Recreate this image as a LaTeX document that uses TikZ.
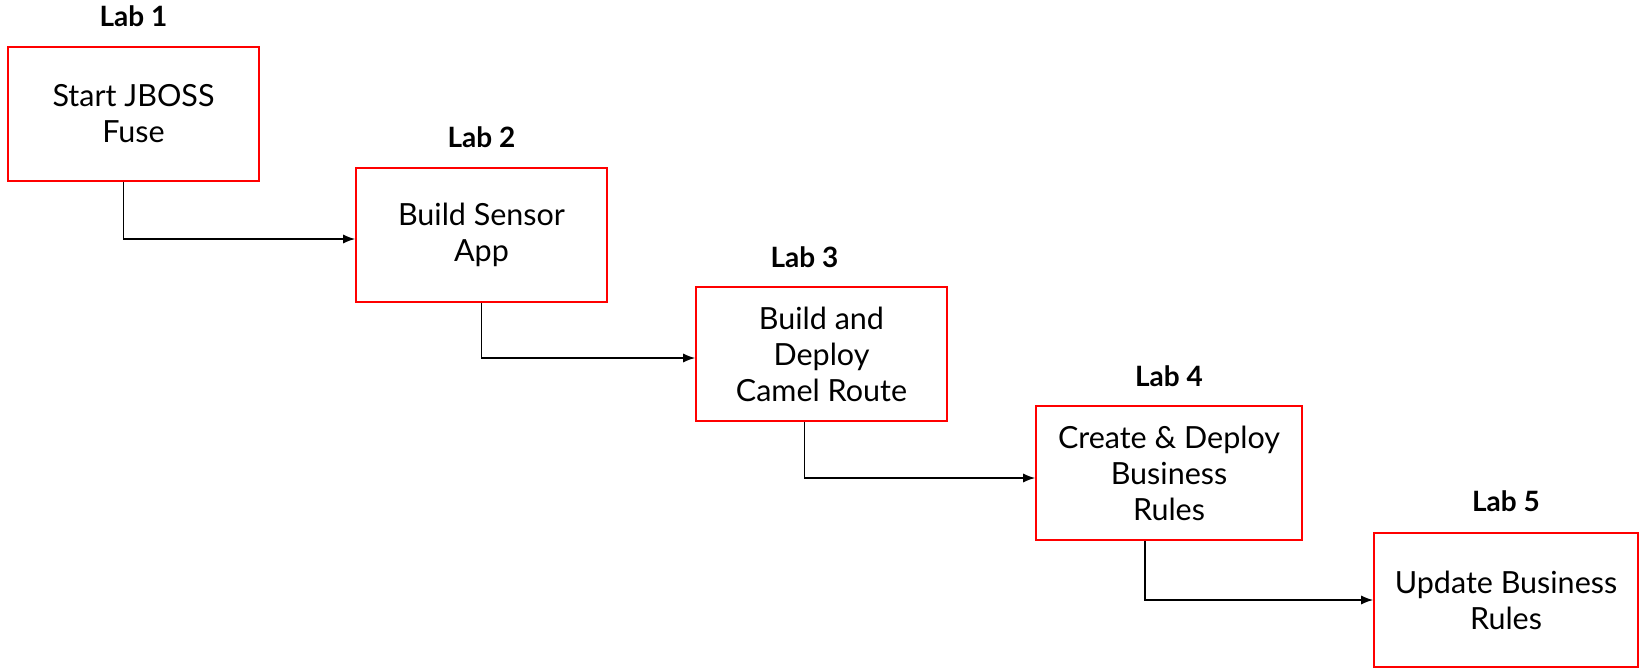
\documentclass[tikz,border=0pt]{standalone}
\usepackage{fontspec}
\setmainfont{Lato}
\usetikzlibrary{arrows.meta,positioning}

\begin{document}
\begin{tikzpicture}[x=1pt,y=-1pt,
    labbox/.style={draw=red,line width=1.6pt,minimum height=134pt,
        align=center,inner sep=0pt,font=\fontsize{30.5}{36}\selectfont},
    labtitle/.style={anchor=base,font=\bfseries\fontsize{28}{32}\selectfont},
    flow/.style={-{Latex[length=12pt,width=9pt]},line width=1.4pt}]
    \useasboundingbox (0,0) rectangle (1641,669);
    % the five lab boxes
    \node[labbox,minimum width=251pt] (b1) at (133.5,114) {Start JBOSS\\Fuse};
    \node[labbox,minimum width=251pt] (b2) at (481.5,235) {Build Sensor\\App};
    \node[labbox,minimum width=251pt] (b3) at (821.5,354) {Build and\\Deploy\\Camel Route};
    \node[labbox,minimum width=266pt] (b4) at (1169,473) {Create \& Deploy\\Business\\Rules};
    \node[labbox,minimum width=264pt] (b5) at (1506,600) {Update Business\\Rules};
    % titles above the boxes
    \node[labtitle] (t1) at ([yshift=20pt]b1.north) {Lab 1};
    \node[labtitle] (t2) at ([yshift=20pt]b2.north) {Lab 2};
    \node[labtitle] (t3) at ([xshift=-17pt,yshift=19pt]b3.north) {Lab 3};
    \node[labtitle] (t4) at ([yshift=19pt]b4.north) {Lab 4};
    \node[labtitle] (t5) at ([yshift=21pt]b5.north) {Lab 5};
    % connectors
    \draw[flow] ([xshift=-10pt]b1.south) |- ([yshift=-4pt]b2.west);
    \draw[flow] (b2.south) |- ([yshift=-4pt]b3.west);
    \draw[flow] ([xshift=-17pt]b3.south) |- ([yshift=-5pt]b4.west);
    \draw[flow] ([xshift=-24pt]b4.south) |- (b5.west);
\end{tikzpicture}
\end{document}
